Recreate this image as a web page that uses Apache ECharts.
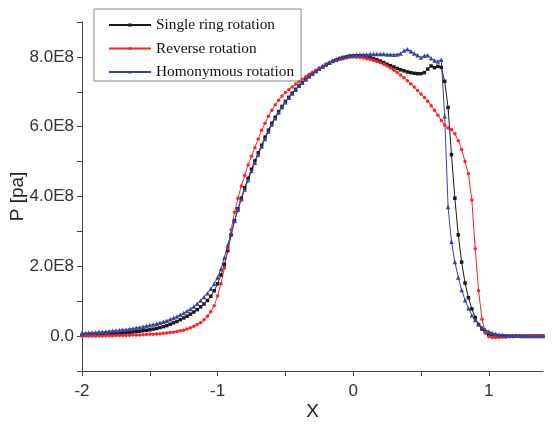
<!DOCTYPE html>
<html>
<head>
<meta charset="utf-8">
<script src="https://cdn.jsdelivr.net/npm/echarts@6/dist/echarts.min.js"></script>
<style>
html,body{margin:0;padding:0;background:#fff;}
#c{width:556px;height:430px;}
</style>
</head>
<body>
<div id="c"></div>
<script>
// x positions
const X = [
-2,-1.975,-1.95,-1.925, -1.9,-1.875,-1.85,-1.825, -1.8,-1.775,-1.75,-1.725,
-1.7,-1.675,-1.65,-1.625, -1.6,-1.575,-1.55,-1.525, -1.5,-1.475,-1.45,-1.425,
-1.4,-1.375,-1.35,-1.325, -1.3,-1.275,-1.25,-1.225, -1.2,-1.175,-1.15,-1.125,
-1.1,-1.075,-1.05,-1.025, -1,-0.975,-0.95,-0.925, -0.9,-0.875,-0.85,-0.825,
-0.8,-0.775,-0.75,-0.725, -0.7,-0.675,-0.65,-0.625, -0.6,-0.575,-0.55,-0.525,
-0.5,-0.475,-0.45,-0.425, -0.4,-0.375,-0.35,-0.325, -0.3,-0.275,-0.25,-0.225,
-0.2,-0.175,-0.15,-0.125, -0.1,-0.075,-0.05,-0.025, 0,0.025,0.05,0.075,
0.1,0.125,0.15,0.175, 0.2,0.225,0.25,0.275, 0.3,0.325,0.35,0.375,
0.4,0.425,0.45,0.475, 0.5,0.525,0.55,0.575, 0.6,0.625,0.65,0.675,
0.7,0.725,0.75,0.775, 0.8,0.825,0.85,0.875, 0.9,0.925,0.95,0.975,
1,1.025,1.05,1.075, 1.1,1.125,1.15,1.175, 1.2,1.225,1.25,1.275,
1.3,1.325,1.35,1.375, 1.4
];
// P values in units of 1E8 Pa
const single = [
0.03,0.03,0.035,0.04, 0.045,0.05,0.055,0.06, 0.065,0.07,0.075,0.085,
0.09,0.1,0.11,0.12, 0.13,0.14,0.155,0.165, 0.18,0.2,0.22,0.245,
0.27,0.3,0.34,0.38, 0.42,0.47,0.52,0.57, 0.63,0.69,0.76,0.84,
0.92,1.02,1.14,1.3, 1.5,1.75,2.05,2.45, 2.9,3.3,3.65,3.95,
4.25,4.52,4.78,5.02, 5.25,5.47,5.7,5.9, 6.1,6.27,6.43,6.58,
6.72,6.84,6.96,7.07, 7.17,7.26,7.35,7.43, 7.51,7.58,7.65,7.71,
7.77,7.82,7.87,7.91, 7.95,7.98,8.0,8.02, 8.03,8.03,8.03,8.02,
8.0,7.98,7.95,7.92, 7.88,7.84,7.79,7.75, 7.71,7.67,7.63,7.6,
7.57,7.55,7.53,7.52, 7.52,7.55,7.65,7.74, 7.69,7.73,7.7,7.3,
6.55,5.2,3.95,2.9, 2.12,1.52,1.1,0.78, 0.53,0.33,0.2,0.1,
0.05,0.03,0.02,0.01, 0.005,0,0,0, 0,0,0,0,
0,0,0,0, 0
];
const reverse = [
0,0,0,0, 0,0.005,0.005,0.01, 0.01,0.01,0.015,0.015,
0.02,0.02,0.025,0.03, 0.03,0.035,0.04,0.045, 0.05,0.055,0.06,0.07,
0.08,0.09,0.1,0.11, 0.13,0.15,0.17,0.2, 0.24,0.28,0.33,0.39,
0.47,0.57,0.7,0.87, 1.15,1.5,1.95,2.5, 3.05,3.55,3.95,4.3,
4.6,4.9,5.15,5.4, 5.65,5.9,6.1,6.3, 6.47,6.63,6.76,6.88,
6.98,7.06,7.14,7.22, 7.29,7.36,7.43,7.5, 7.56,7.62,7.68,7.73,
7.78,7.83,7.87,7.9, 7.93,7.95,7.97,7.99, 8.0,7.99,7.98,7.97,
7.95,7.93,7.9,7.87, 7.83,7.79,7.74,7.68, 7.62,7.55,7.48,7.4,
7.32,7.23,7.14,7.04, 6.94,6.84,6.73,6.6, 6.47,6.33,6.18,6.04,
5.96,5.92,5.8,5.6, 5.35,5.0,4.65,3.9, 2.5,1.3,0.48,0.1,
-0.02,-0.04,-0.04,-0.04, -0.03,-0.03,-0.02,-0.02, -0.015,-0.01,-0.01,-0.005,
-0.005,0,0,0, 0
];
const homonymous = [
0.08,0.09,0.095,0.1, 0.11,0.115,0.12,0.13, 0.14,0.15,0.16,0.17,
0.18,0.19,0.205,0.22, 0.235,0.25,0.27,0.29, 0.31,0.33,0.355,0.38,
0.41,0.44,0.48,0.52, 0.56,0.61,0.66,0.72, 0.78,0.85,0.93,1.02,
1.12,1.23,1.36,1.5, 1.68,1.92,2.25,2.6, 2.95,3.3,3.62,3.92,
4.2,4.47,4.73,4.97, 5.2,5.43,5.65,5.86, 6.06,6.24,6.41,6.56,
6.7,6.83,6.95,7.06, 7.17,7.27,7.36,7.45, 7.53,7.6,7.67,7.74,
7.8,7.85,7.9,7.94, 7.97,8.0,8.02,8.04, 8.05,8.06,8.07,8.07,
8.07,8.08,8.08,8.08, 8.08,8.08,8.07,8.07, 8.06,8.07,8.1,8.18,
8.22,8.16,8.1,8.05, 7.98,8.03,8.05,7.96, 7.9,7.87,7.92,6.3,
3.7,2.7,2.12,1.68, 1.32,1.03,0.8,0.6, 0.46,0.34,0.25,0.18,
0.13,0.09,0.06,0.04, 0.03,0.02,0.01,0.01, 0.01,0.01,0.005,0.005,
0.005,0,0,0, 0
];
const seriesNames = ['Single ring rotation','Reverse rotation','Homonymous rotation'];
const xTicks = [-2,-1.5,-1,-0.5,0,0.5,1];
const xLabels = [-2,-1,0,1];
const yTicks = [-1,0,1,2,3,4,5,6,7,8,9];
const yLabels = [0,2,4,6,8];

const pair = arr => X.map((x,i)=>[x,arr[i]]);
const chart = echarts.init(document.getElementById('c'), null, {renderer:'canvas'});
const axisCol = '#444';
const labelFont = {fontFamily:'Liberation Sans, Arial, sans-serif', fontSize:17, color:'#333'};
function mk(name, arr, color, symbol, size){
  return {
    name, type:'line', data: pair(arr), symbol, symbolSize:size,
    showSymbol:true, smooth:false,
    lineStyle:{color, width:1},
    itemStyle:{color, borderWidth:0},
    emphasis:{disabled:true}
  };
}
chart.setOption({
  animation:false,
  backgroundColor:'#fff',
  grid:{left:82, right:13, top:22, bottom:59, containLabel:false, outerBoundsMode:'none'},
  legend:{
    orient:'vertical', left:94, top:9,
    padding:[8,7,1,14],
    borderColor:'#888', borderWidth:1,
    itemWidth:42, itemHeight:4, itemGap:7.5,
    textStyle:{fontFamily:'Liberation Serif, Times New Roman, serif', fontSize:15.3, color:'#111', lineHeight:16},
    data: seriesNames
  },
  xAxis:{
    type:'value', min:-2, max:1.4,
    name:'X', nameLocation:'middle', nameGap:31, nameMoveOverlap:false,
    nameTextStyle:{fontFamily:'Liberation Sans, Arial, sans-serif', fontSize:19, color:'#222'},
    axisLine:{show:true, onZero:false, lineStyle:{color:axisCol, width:1}},
    axisTick:{show:true, inside:false, length:5, customValues:xTicks, lineStyle:{color:axisCol}},
    axisLabel:{customValues:xLabels, margin:12, ...labelFont, formatter:v=>String(v)},
    splitLine:{show:false}
  },
  yAxis:{
    type:'value', min:-1, max:9,
    name:'P [pa]', nameLocation:'middle', nameGap:55, nameRotate:90, nameMoveOverlap:false,
    nameTextStyle:{fontFamily:'Liberation Sans, Arial, sans-serif', fontSize:19, color:'#222'},
    axisLine:{show:true, onZero:false, lineStyle:{color:axisCol, width:1}},
    axisTick:{show:true, inside:false, length:5, customValues:yTicks, lineStyle:{color:axisCol}},
    axisLabel:{customValues:yLabels, margin:8, ...labelFont,
      formatter:v=> v===0 ? '0.0' : v.toFixed(1)+'E8'},
    splitLine:{show:false}
  },
  series:[
    mk(seriesNames[0], single, '#1a1a1a', 'rect', 3.5),
    mk(seriesNames[1], reverse, '#ff2222', 'circle', 3.5),
    mk(seriesNames[2], homonymous, '#3442a8', 'triangle', 4.5)
  ]
});
</script>
</body>
</html>
